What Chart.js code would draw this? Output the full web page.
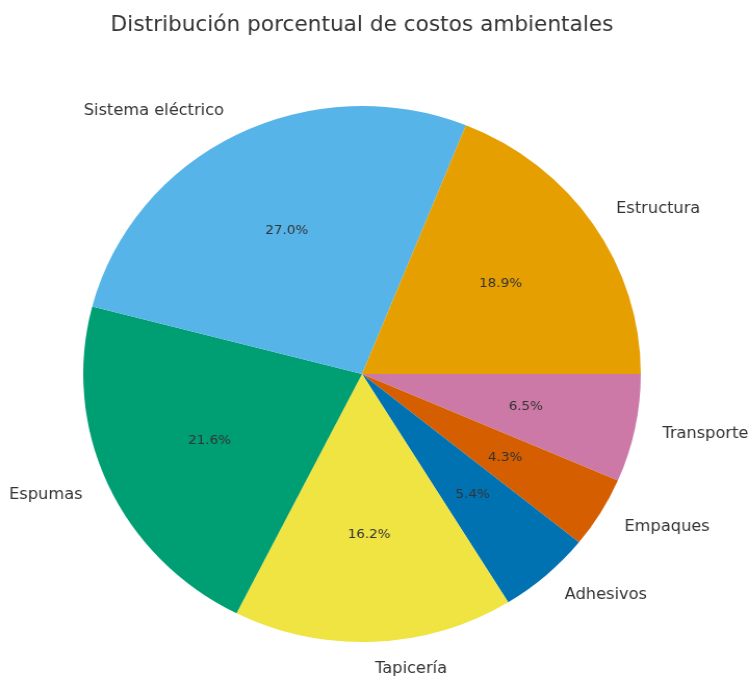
<!DOCTYPE html>
<html lang="es">
<head>
  <meta charset="UTF-8" />
  <title>Distribución porcentual de costos ambientales</title>
  <style>
    html, body {
      margin: 0;
      padding: 0;
      background: #fff;
      overflow: hidden;
    }
    #wrap {
      width: 749px;
      height: 677px;
    }
    #costChart {
      display: block;
      transform: scaleX(1.0403);
      transform-origin: 0 0;
    }
  </style>
</head>
<body>
  <div id="wrap">
    <canvas id="costChart" width="720" height="677"></canvas>
  </div>

  <script src="https://cdn.jsdelivr.net/npm/chart.js"></script>
  <script>
    const chartTitle = 'Distribución porcentual de costos ambientales';
    const categories = ['Estructura', 'Sistema eléctrico', 'Espumas', 'Tapicería', 'Adhesivos', 'Empaques', 'Transporte'];
    const shares = [18.9, 27.0, 21.6, 16.2, 5.4, 4.3, 6.5];
    const colors = ['#E69F00', '#56B4E9', '#009E73', '#F0E442', '#0072B2', '#D55E00', '#CC79A7'];

    // slices go counter-clockwise from 3 o'clock, so feed them in reverse
    // and let Chart.js draw clockwise from the same start
    const order = categories.map((_, i) => categories.length - 1 - i);

    const FONT = '"DejaVu Sans", Verdana, sans-serif';
    const TEXT = '#333333';

    // title, slice names (outside) and percentages (inside)
    const pieText = {
      id: 'pieText',
      afterDatasetsDraw(chart) {
        const ctx = chart.ctx;
        const arcs = chart.getDatasetMeta(0).data;
        ctx.save();
        ctx.fillStyle = TEXT;

        ctx.font = '20.8px ' + FONT;
        ctx.textAlign = 'center';
        ctx.textBaseline = 'middle';
        const cx = arcs[0].x;
        ctx.fillText(chartTitle, cx, 25.5);

        arcs.forEach((arc, k) => {
          const i = order[k];
          const p = arc.getProps(['x', 'y', 'startAngle', 'endAngle', 'outerRadius'], true);
          const mid = (p.startAngle + p.endAngle) / 2;
          const c = Math.cos(mid), s = Math.sin(mid);

          ctx.font = '13px ' + FONT;
          ctx.textAlign = 'center';
          ctx.fillText(shares[i].toFixed(1) + '%', p.x + c * p.outerRadius * 0.6, p.y + s * p.outerRadius * 0.6);

          ctx.font = '15.6px ' + FONT;
          ctx.textAlign = c > 0 ? 'left' : 'right';
          ctx.fillText(categories[i], p.x + c * p.outerRadius * 1.1, p.y + s * p.outerRadius * 1.1);
        });
        ctx.restore();
      }
    };

    new Chart(document.getElementById('costChart'), {
      type: 'pie',
      data: {
        labels: order.map(i => categories[i]),
        datasets: [{
          data: order.map(i => shares[i]),
          backgroundColor: order.map(i => colors[i]),
          borderWidth: 0,
          hoverOffset: 0
        }]
      },
      options: {
        responsive: false,
        animation: false,
        rotation: 90,
        layout: {
          padding: { top: 106, bottom: 35, left: 80, right: 104 }
        },
        plugins: {
          legend: { display: false },
          title: { display: false },
          tooltip: { enabled: false }
        }
      },
      plugins: [pieText]
    });
  </script>
</body>
</html>
